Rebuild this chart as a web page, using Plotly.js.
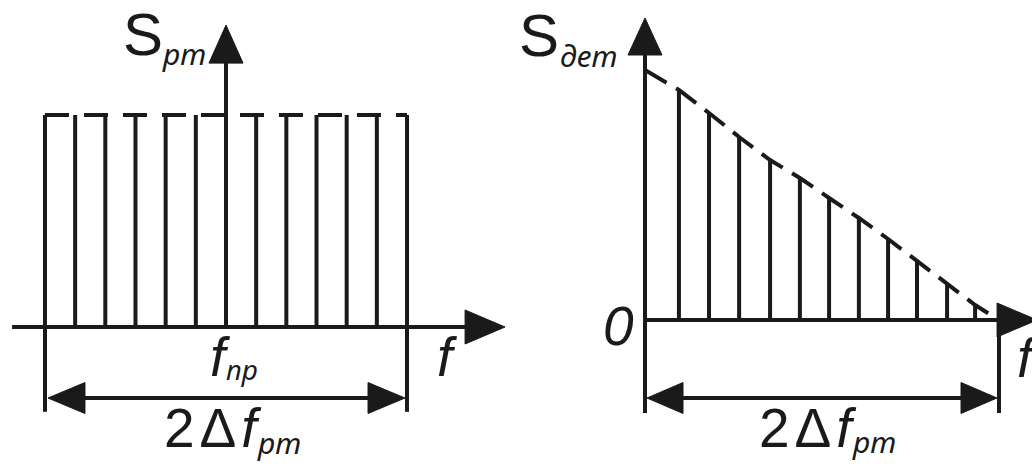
<!DOCTYPE html>
<html><head><meta charset="utf-8">
<script src="https://cdn.plot.ly/plotly-3.0.1.min.js"></script>
<style>html,body{margin:0;padding:0;background:#fff}</style>
</head><body>
<div id="chart" style="width:1032px;height:466px"></div>
<script>
// ---------------- data ----------------
// Left: spectrum of the radio path (offsets from f_пр, in line-spacing units)
const rtFreq = [-6, -5, -4, -3, -2, -1, 0, 1, 2, 3, 4, 5, 6];
const rtAmp  = [1, 1, 1, 1, 1, 1, 1, 1, 1, 1, 1, 1, 1];
const rtBand = [-6, 6];                 // 2Δf_рт
// Right: spectrum at the detector output
const detFreq = [0, 1.15, 2.17, 3.19, 4.24, 5.25, 6.24, 7.25, 8.24, 9.22, 10.24, 11.19];
const detAmp  = [1, 0.92, 0.828, 0.732, 0.64, 0.568, 0.488, 0.408, 0.324, 0.236, 0.148, 0.06];
const detBand = [0, 12];                // 2Δf_рт
// axis extents (data units)
const rtAxisX = [-7.09, 9.25];
const rtAxisY = [0, 1.424];
const detAxisX = [0, 13.29];
const detAxisY = [-0.372, 1.208];

// -------------- geometry (pixel mapping) --------------
const W = 1032, H = 466;
const PL = {x0: 226, sx: 30.17, y0: 327, sy: 212};   // left panel
const PR = {x0: 645, sx: 29.5,  y0: 320, sy: 250};   // right panel
const BLACK = '#1a1a1a';
const LW = 4;

function rangeX(p) { return [(0 - p.x0) / p.sx, (W - p.x0) / p.sx]; }
function rangeY(p) { return [(p.y0 - H) / p.sy, p.y0 / p.sy]; }

function stems(xs, ys, ax) {
  const x = [], y = [];
  xs.forEach((v, i) => { x.push(v, v, null); y.push(0, ys[i], null); });
  return {type: 'scatter', mode: 'lines', x, y, xaxis: ax[0], yaxis: ax[1],
          line: {color: BLACK, width: LW}, hoverinfo: 'skip', showlegend: false};
}
function seg(x, y, ax, extra) {
  return Object.assign({type: 'scatter', mode: 'lines', x, y, xaxis: ax[0], yaxis: ax[1],
          line: {color: BLACK, width: LW}, hoverinfo: 'skip', showlegend: false}, extra || {});
}
// filled triangular arrow head, sizes in px
function head(tx, ty, dir, len, half, p, ax) {
  const dx = len / p.sx, dy = len / p.sy, hx = half / p.sx, hy = half / p.sy;
  let x, y;
  if (dir === 'up')    { x = [tx, tx - hx, tx + hx, tx]; y = [ty, ty - dy, ty - dy, ty]; }
  if (dir === 'right') { x = [tx, tx - dx, tx - dx, tx]; y = [ty, ty + hy, ty - hy, ty]; }
  if (dir === 'left')  { x = [tx, tx + dx, tx + dx, tx]; y = [ty, ty + hy, ty - hy, ty]; }
  return {type: 'scatter', mode: 'lines', x, y, xaxis: ax[0], yaxis: ax[1], fill: 'toself',
          fillcolor: BLACK, line: {color: BLACK, width: 1}, hoverinfo: 'skip', showlegend: false};
}

const A1 = ['x', 'y'], A2 = ['x2', 'y2'];
const traces = [];

// ---- left panel ----
traces.push(stems(rtFreq, rtAmp, A1));
traces.push(seg([rtFreq[0], rtFreq[rtFreq.length - 1]], [rtAmp[0], rtAmp[rtAmp.length - 1]], A1,
                {line: {color: BLACK, width: LW, dash: '24px,15px'}}));
// axes
traces.push(seg([0, 0], [rtAxisY[0], rtAxisY[1] - 30 / PL.sy], A1));
traces.push(head(0, rtAxisY[1], 'up', 38, 17, PL, A1));
traces.push(seg([rtAxisX[0], rtAxisX[1] - 30 / PL.sx], [0, 0], A1));
traces.push(head(rtAxisX[1], 0, 'right', 40, 17, PL, A1));
// dimension 2Δf
const rtExt = -0.40, rtDim = -0.335;
traces.push(seg([rtBand[0], rtBand[0], null, rtBand[1], rtBand[1]], [0, rtExt, null, 0, rtExt], A1));
traces.push(seg([rtBand[0] + 20 / PL.sx, rtBand[1] - 20 / PL.sx], [rtDim, rtDim], A1));
traces.push(head(rtBand[0] + 3 / PL.sx, rtDim, 'left', 37, 15.5, PL, A1));
traces.push(head(rtBand[1] - 2 / PL.sx, rtDim, 'right', 37, 15.5, PL, A1));

// ---- right panel ----
traces.push(stems(detFreq, detAmp, A2));
traces.push(seg(detFreq.concat([detBand[1]]), detAmp.concat([0]), A2,
                {line: {color: BLACK, width: LW, dash: '25px,11px'}}));
traces.push(seg([0, 0], [detAxisY[0], detAxisY[1] - 30 / PR.sy], A2));
traces.push(head(0, detAxisY[1], 'up', 37, 17, PR, A2));
traces.push(seg([detAxisX[0], detAxisX[1] - 30 / PR.sx], [0, 0], A2));
traces.push(head(detAxisX[1], 0, 'right', 40, 17, PR, A2));
const detDim = -0.312;
traces.push(seg([detBand[1], detBand[1]], [0, detAxisY[0]], A2));
traces.push(seg([detBand[0] + 20 / PR.sx, detBand[1] - 20 / PR.sx], [detDim, detDim], A2));
traces.push(head(detBand[0] + 2 / PR.sx, detDim, 'left', 36, 15.5, PR, A2));
traces.push(head(detBand[1] - 2 / PR.sx, detDim, 'right', 36, 15.5, PR, A2));

// ---- labels ----
const MAIN = 'Liberation Sans, Arial, sans-serif';
const SUBF = 'Noto Sans, Liberation Sans, sans-serif';
function lab(text, x, y, ax, size, fam, xanchor) {
  return {text, x, y, xref: ax[0], yref: ax[1], showarrow: false,
          xanchor: xanchor || 'center', yanchor: 'middle',
          font: {family: fam, size, color: BLACK}};
}
const BAND = '<span style="letter-spacing:5px">2Δ</span><i>f</i>';
const annotations = [
  lab('S', -2.75, 1.382, A1, 60, MAIN),
  lab('<i>рт</i>', -2.2, 1.29, A1, 30, SUBF, 'left'),
  lab('<i>f</i>', 7.325, -0.1415, A1, 55, MAIN),
  lab('<i>f</i>', -0.17, -0.1415, A1, 55, MAIN),
  lab('<i>пр</i>', -0.08, -0.2, A1, 28, SUBF, 'left'),
  lab(BAND, -2.12, -0.476, A1, 55, MAIN, 'left'),
  lab('<i>рт</i>', 0.95, -0.545, A1, 30, SUBF, 'left'),

  lab('S', -3.593, 1.14, A2, 60, MAIN),
  lab('<i>дет</i>', -2.95, 1.06, A2, 30, SUBF, 'left'),
  lab('<i>0</i>', -0.915, -0.024, A2, 55, MAIN),
  lab('<i>f</i>', 12.54, -0.152, A2, 55, MAIN, 'left'),
  lab(BAND, 3.80, -0.432, A2, 55, MAIN, 'left'),
  lab('<i>рт</i>', 6.95, -0.487, A2, 30, SUBF, 'left')
];

const hidden = {visible: false, fixedrange: true};
const layout = {
  width: W, height: H, margin: {l: 0, r: 0, t: 0, b: 0},
  paper_bgcolor: '#ffffff', plot_bgcolor: '#ffffff', showlegend: false,
  xaxis:  Object.assign({domain: [0, 1], range: rangeX(PL)}, hidden),
  yaxis:  Object.assign({domain: [0, 1], range: rangeY(PL)}, hidden),
  xaxis2: Object.assign({domain: [0, 1], range: rangeX(PR), overlaying: 'x', anchor: 'y2'}, hidden),
  yaxis2: Object.assign({domain: [0, 1], range: rangeY(PR), overlaying: 'y', anchor: 'x2'}, hidden),
  annotations
};
Plotly.newPlot('chart', traces, layout, {staticPlot: true, displayModeBar: false});
</script>
</body></html>
